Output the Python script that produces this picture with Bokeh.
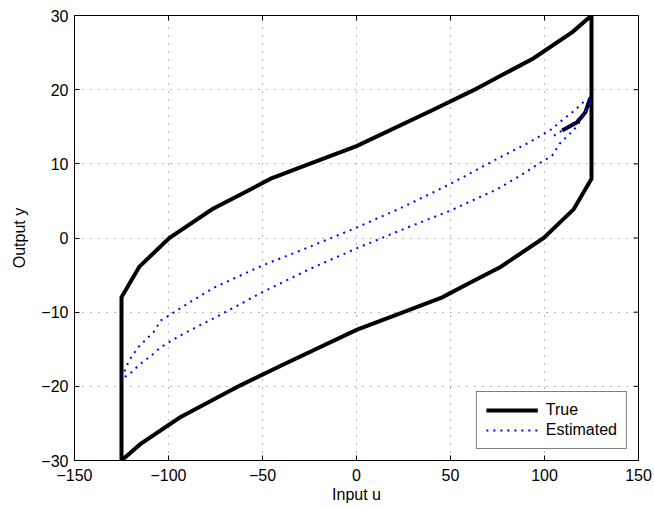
import math
from bokeh.plotting import figure
from bokeh.models import Range1d, FixedTicker, Legend, LegendItem
from bokeh.embed import file_html
from bokeh.resources import INLINE

# ---------------- data ----------------
x_ticks = [-150, -100, -50, 0, 50, 100, 150]
x_tick_labels = ["\u2212150", "\u2212100", "\u221250", "0", "50", "100", "150"]
y_ticks = [-30, -20, -10, 0, 10, 20, 30]
y_tick_labels = ["\u221230", "\u221220", "\u221210", "0", "10", "20", "30"]

# True hysteresis: initial curve, descending branch, ascending branch
true_init_u = [109.4, 117.4, 121.8, 124.1, 125]
true_init_y = [14.5, 15.6, 17.0, 18.7, 19.0]
true_down_u = [125, 115, 94, 62, 40, 0, -25, -45.6, -60.6, -76.6, -99.6, -115.6, -125]
true_down_y = [30, 27.8, 24.2, 19.9, 17.2, 12.4, 10.0, 8.0, 6.0, 3.9, 0.0, -3.9, -8.0]
true_up_u = [-125, -115, -94, -62, -40, 0, 25, 45.6, 60.6, 76.6, 99.6, 115.6, 125, 125]
true_up_y = [-30, -27.8, -24.2, -19.9, -17.2, -12.4, -10.0, -8.0, -6.0, -3.9, 0.0, 3.9, 8.0, 30]

# Estimated hysteresis
est_init_u = [105, 110, 117, 122, 125]
est_init_y = [13.8, 14.6, 15.8, 17.1, 18.8]
est_down_u = [125, 121, 116, 108, 104, 92, 75, 50, 25, 0, -25, -50, -75, -87, -100, -104, -108, -116, -121, -125]
est_down_y = [18.8, 18.4, 17.2, 15.6, 14.7, 12.9, 10.7, 7.3, 4.2, 1.4, -1.2, -3.7, -6.6, -8.4, -10.5, -11.1, -12.7, -14.7, -16.5, -19.0]
est_up_u = [-125, -121, -116, -108, -104, -92, -75, -50, -25, 0, 25, 50, 75, 87, 100, 104, 108, 116, 121, 125]
est_up_y = [-19.0, -18.4, -17.2, -15.6, -14.7, -12.9, -10.7, -7.3, -4.2, -1.4, 1.2, 3.7, 6.6, 8.4, 10.5, 11.1, 12.7, 14.7, 16.5, 18.8]

FONT = "Liberation Sans"
X_MIN, X_MAX, Y_MIN, Y_MAX = -150, 150, -30, 30

p = figure(width=654, height=506, output_backend="svg", toolbar_location=None,
           x_range=Range1d(X_MIN, X_MAX), y_range=Range1d(Y_MIN, Y_MAX),
           min_border_left=74, min_border_right=16, min_border_top=15, min_border_bottom=46)
p.background_fill_color = "white"
p.border_fill_color = "white"
p.outline_line_color = "black"
p.outline_line_width = 1

for ax, ticks, labels in ((p.xaxis[0], x_ticks, x_tick_labels), (p.yaxis[0], y_ticks, y_tick_labels)):
    ax.ticker = FixedTicker(ticks=ticks)
    ax.major_label_overrides = {t: l for t, l in zip(ticks, labels)}
    ax.major_tick_in = 5
    ax.major_tick_out = 0
    ax.minor_tick_line_color = None
    ax.axis_line_color = "black"
    ax.major_tick_line_color = "black"
    ax.major_label_text_font = FONT
    ax.major_label_text_font_size = "16px"
    ax.major_label_text_color = "black"
    ax.axis_label_text_font = FONT
    ax.axis_label_text_font_size = "16px"
    ax.axis_label_text_font_style = "normal"
    ax.axis_label_text_color = "black"

p.xaxis.axis_label = "Input u"
p.yaxis.axis_label = "Output y"
p.xaxis.major_label_standoff = 8
p.xaxis.axis_label_standoff = 2
p.yaxis.major_label_standoff = 6
p.yaxis.axis_label_standoff = 10

for g, ticks in ((p.xgrid[0], x_ticks), (p.ygrid[0], y_ticks)):
    g.ticker = FixedTicker(ticks=ticks)
    g.grid_line_color = "#333333"
    g.grid_line_dash = "1 7"
    g.grid_line_width = 1
    g.grid_line_alpha = 0.7

# inward tick marks on the top and right edges of the box (clipped to the frame)
p.scatter(x_ticks, [Y_MAX] * len(x_ticks), marker="dash", size=10, angle=math.pi / 2,
          line_color="black", line_width=1)
p.scatter([X_MAX] * len(y_ticks), y_ticks, marker="dash", size=10, angle=0,
          line_color="black", line_width=1)

true_u = true_init_u + true_down_u + true_up_u
true_y = true_init_y + true_down_y + true_up_y
est_u = est_init_u + est_down_u + est_up_u
est_y = est_init_y + est_down_y + est_up_y

r_true = p.line(true_u, true_y, line_color="black", line_width=4, line_join="miter")
r_est = p.line(est_u, est_y, line_color="#0000ff", line_width=2, line_dash="2 5")

legend = Legend(items=[LegendItem(label="True", renderers=[r_true]),
                       LegendItem(label="Estimated", renderers=[r_est])],
                location="bottom_right")
legend.margin = 11
legend.padding = 9
legend.spacing = 2
legend.glyph_width = 52
legend.glyph_height = 16
legend.label_height = 16
legend.label_standoff = 8
legend.label_text_font = FONT
legend.label_text_font_size = "16px"
legend.label_text_color = "black"
legend.border_line_color = "black"
legend.border_line_width = 1
legend.background_fill_color = "white"
legend.background_fill_alpha = 1.0
p.add_layout(legend, "center")

open("out.html", "w").write(file_html(p, INLINE))
